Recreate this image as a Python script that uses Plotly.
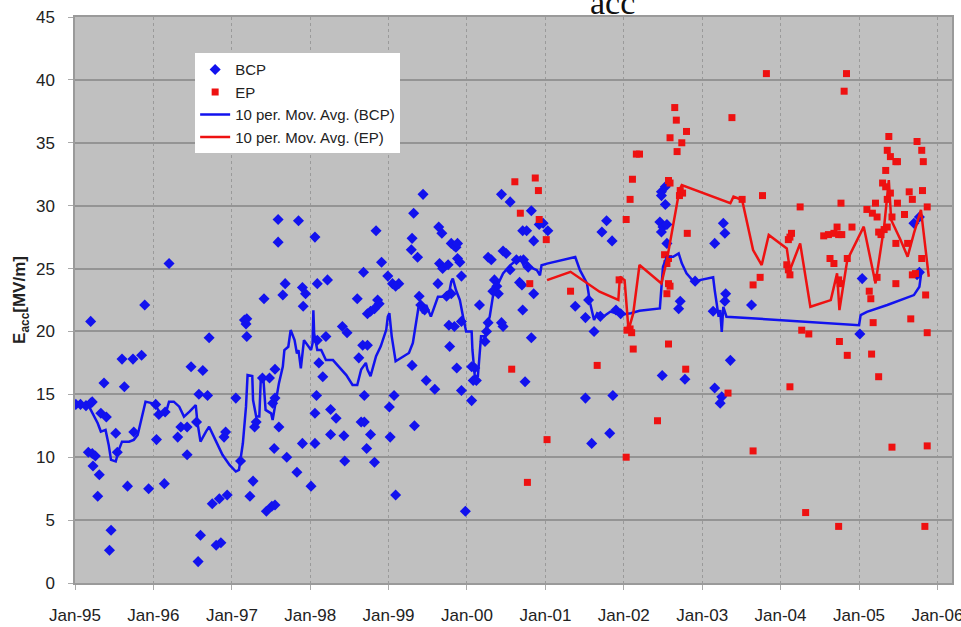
import pandas as pd
import plotly.graph_objects as go

# ---------------- data (decimal years, Eacc in MV/m) ----------------
bcp_year = [1995.01,1995.07,1995.14,1995.2,1995.22,1995.2,1995.17,1995.22,1995.26,1995.23,
            1995.31,1995.29,1995.46,1995.44,1995.33,1995.4,1995.37,1995.52,1995.54,1995.63,
            1995.6,1995.74,1995.85,1995.67,1995.75,1995.89,1995.94,1996.04,1996.07,1996.03,
            1996.15,1996.14,1996.2,1996.31,1996.35,1996.43,1996.43,1996.55,1996.48,1996.63,
            1996.58,1996.69,1996.71,1996.6,1996.57,1996.75,1996.84,1996.94,1996.8,1996.86,
            1996.9,1996.92,1997.05,1997.11,1997.16,1997.18,1997.19,1997.19,1997.23,1997.27,
            1997.29,1997.31,1997.39,1997.48,1997.55,1997.52,1997.55,1997.6,1997.54,1997.7,
            1997.83,1997.41,1997.65,1997.68,1997.9,1997.94,1997.91,1998.09,1998.22,1998.09,
            1998.2,1998.11,1998.16,1998.08,1998.06,1997.9,1998.06,1998.01,1997.59,1997.85,
            1997.59,1998.06,1997.44,1997.51,1997.55,1998.26,1998.33,1998.26,1998.41,
            1998.43,1998.44,1998.47,1998.6,1998.62,1998.65,1998.69,1998.68,1998.67,1998.73,1998.69,
            1998.77,1998.72,1998.82,1998.84,1998.91,1998.86,1998.88,1998.73,1998.77,1998.82,
            1998.99,1999.05,1999.13,1999.09,1999.01,1999.07,1999.02,1999.09,1999.32,1999.44,
            1999.3,1999.29,1999.37,1999.33,1999.3,1999.48,1999.59,1999.39,1999.41,1999.46,
            1999.63,1999.65,1999.69,1999.64,1999.68,1999.8,1999.84,1999.86,1999.88,1999.88,
            1999.91,1999.76,1999.93,1999.74,1999.8,1999.77,1999.84,1999.93,1999.78,1999.87,
            1999.93,2000.06,2000.06,2000.1,2000.08,2000.12,1999.98,2000.16,2000.25,2000.27,
            2000.23,2000.27,2000.31,2000.35,2000.38,2000.33,2000.4,2000.44,2000.46,2000.44,
            2000.55,2000.46,2000.5,2000.55,2000.63,2000.67,2000.7,2000.72,2000.78,2000.82,
            2000.71,2000.76,2000.85,2000.92,2000.97,2001.03,2000.71,2000.82,2000.85,2000.74,
            2001.38,2001.51,2001.55,2001.62,2001.7,2001.78,2001.72,2001.85,2001.51,2001.86,
            2001.59,2001.82,2001.9,2001.96,2002.48,2002.53,2002.48,2002.53,2002.46,2002.5,
            2002.55,2002.48,2002.55,2002.72,2002.7,2002.91,2002.49,2002.78,2003.27,2003.29,
            2003.16,2003.3,2003.29,2003.14,2003.36,2003.16,2003.25,2003.23,2003.63,2005.04,
            2005.01,2005.7,2005.77,2005.74,2005.77]
bcp_value = [14.2,14.2,14.1,14.3,14.4,20.8,10.4,10.3,10.1,9.3,
             8.6,6.9,4.2,2.6,13.5,13.2,15.9,11.9,10.4,15.6,
             17.8,17.8,18.1,7.7,12.0,22.1,7.5,11.4,13.4,14.2,
             13.6,7.9,25.4,11.6,12.4,12.4,10.2,12.8,17.2,16.9,
             15.0,14.9,19.5,3.8,1.7,6.3,6.7,7.0,3.0,3.2,
             11.6,12.0,14.7,9.7,20.9,20.6,21.0,19.6,6.9,8.1,
             12.4,12.8,16.3,16.3,17.0,14.3,14.7,12.4,10.7,10.0,
             8.8,22.6,22.9,23.8,23.5,23.0,22.0,23.8,24.1,19.3,
             19.6,17.5,16.4,14.9,13.5,11.1,11.1,7.7,28.9,28.8,
             27.1,27.5,5.7,6.1,6.2,13.8,13.1,11.8,20.4,
             11.7,9.7,19.9,22.6,17.9,12.8,12.8,24.7,18.9,18.9,14.9,
             11.8,10.7,9.6,28.0,25.5,22.5,22.2,21.4,21.6,21.8,
             24.4,23.8,23.8,23.6,14.0,14.9,11.6,7.0,29.4,30.9,
             27.4,26.5,25.9,12.5,17.3,16.1,15.4,22.8,22.1,21.7,
             23.8,25.4,25.0,28.3,27.8,27.0,26.8,26.7,27.0,25.8,
             25.5,25.3,24.4,22.8,23.0,20.5,20.4,20.8,18.8,17.1,
             15.3,14.5,17.2,17.1,16.1,16.1,5.7,22.1,20.0,20.7,
             19.2,25.9,25.7,24.1,23.6,23.2,23.0,20.7,20.4,30.9,
             30.3,26.4,26.2,24.9,25.7,23.9,23.7,25.7,25.1,29.6,
             28.0,28.0,27.2,28.5,28.6,28.0,21.7,19.5,23.0,16.0,
             22.0,21.1,22.5,20.0,21.2,28.8,27.9,27.2,14.7,14.9,
             11.1,11.9,21.7,21.4,31.1,31.5,30.8,30.1,28.7,28.3,
             28.5,27.9,27.0,22.4,21.8,24.0,16.5,16.2,28.6,27.8,
             27.0,23.0,22.4,21.6,17.7,15.5,14.8,14.3,22.1,24.2,
             19.8,28.6,29.1,24.5,24.7]

ep_year = [2000.61,2000.87,2000.91,2000.68,2000.92,2001.01,2000.8,2000.57,2001.02,2000.77,
           2001.32,2001.66,2001.94,2002.03,2002.08,2002.11,2002.16,2002.2,2002.04,2002.08,
           2002.1,2002.12,2002.03,2002.43,2002.52,2002.57,2002.55,2002.57,2002.59,2002.55,
           2002.57,2002.57,2002.59,2002.59,2002.65,2002.67,2002.68,2002.74,2002.8,2002.72,
           2002.75,2002.71,2002.81,2002.79,2003.33,2003.38,2003.51,2003.65,2003.74,2003.65,
           2003.77,2003.82,2004.1,2004.12,2004.14,2004.08,2004.1,2004.12,2004.12,2004.25,
           2004.27,2004.36,2004.32,2004.55,2004.61,2004.68,2004.72,2004.74,2004.78,2004.63,
           2004.68,2004.74,2004.76,2004.85,2004.91,2004.75,2004.85,2004.74,2004.77,2004.84,
           2004.81,2005.1,2005.17,2005.21,2005.23,2005.13,2005.15,2005.18,2005.16,2005.25,
           2005.42,2005.38,2005.36,2005.4,2005.34,2005.47,2005.49,2005.3,2005.34,2005.4,
           2005.36,2005.25,2005.32,2005.36,2005.28,2005.42,2005.49,2005.47,2005.47,2005.58,
           2005.64,2005.68,2005.62,2005.66,2005.74,2005.8,2005.82,2005.81,2005.87,2005.8,
           2005.68,2005.72,2005.85,2005.87,2005.87,2005.84,2005.23]
ep_value = [31.9,32.2,31.2,29.4,28.9,27.3,23.8,17.0,11.4,8.0,
            23.2,17.3,24.1,28.9,30.5,32.1,34.1,34.1,20.1,20.2,
            19.9,18.6,10.0,12.9,26.1,25.8,25.4,23.8,23.6,23.0,
            19.0,32.0,31.8,35.4,37.8,36.8,34.3,35.0,35.9,31.2,
            31.0,30.8,27.8,17.0,15.1,37.0,30.5,23.7,24.3,10.5,
            30.8,40.5,27.3,27.5,27.8,25.3,24.9,24.5,15.6,29.9,
            20.1,19.8,5.6,27.6,27.7,27.8,28.3,27.7,27.7,25.8,
            25.4,24.1,23.8,25.8,28.3,19.2,18.1,4.5,30.2,40.5,
            39.1,29.7,29.4,30.2,29.1,23.2,22.6,20.7,18.2,16.4,
            10.8,35.5,34.4,33.9,32.8,33.5,33.5,31.8,31.5,31.0,
            30.5,27.9,28.1,28.3,27.7,29.1,30.2,27.0,23.8,29.3,
            31.1,30.5,27.0,21.0,35.1,34.4,33.5,31.2,29.9,25.8,
            24.5,24.6,22.9,19.9,10.9,4.5,24.3]

# 10-period moving-average trend lines
bcp_ma_year = [1995.0,1995.18,1995.29,1995.33,1995.39,1995.43,1995.46,1995.52,1995.56,1995.6,
               1995.69,1995.75,1995.8,1995.88,1995.9,1995.99,1996.05,1996.09,1996.16,1996.2,
               1996.26,1996.33,1996.39,1996.46,1996.54,1996.56,1996.6,1996.67,1996.71,1996.8,
               1996.88,1996.97,1997.05,1997.09,1997.14,1997.18,1997.2,1997.26,1997.27,1997.31,
               1997.35,1997.37,1997.4,1997.43,1997.5,1997.52,1997.56,1997.6,1997.65,1997.67,
               1997.72,1997.75,1997.8,1997.83,1997.85,1997.88,1997.92,1997.97,1998.01,1998.03,
               1998.04,1998.05,1998.09,1998.14,1998.2,1998.29,1998.37,1998.46,1998.54,1998.6,
               1998.65,1998.71,1998.73,1998.77,1998.84,1998.9,1998.97,1998.99,1999.01,1999.04,
               1999.09,1999.22,1999.26,1999.31,1999.35,1999.39,1999.44,1999.48,1999.54,1999.59,
               1999.63,1999.69,1999.78,1999.8,1999.82,1999.86,1999.91,1999.95,1999.99,2000.06,
               2000.07,2000.1,2000.14,2000.16,2000.18,2000.22,2000.23,2000.25,2000.29,2000.33,
               2000.38,2000.46,2000.55,2000.63,2000.68,2000.72,2000.76,2000.8,2000.89,2000.93,
               2000.95,2001.02,2001.38,2001.44,2001.53,2001.57,2001.62,2001.66,2001.74,2001.83,
               2001.96,2002.09,
               2002.2,2002.46,2002.48,2002.5,2002.55,2002.63,2002.7,2002.74,2002.8,2002.91,
               2002.97,2003.14,2003.16,2003.19,2003.21,2003.23,2003.25,2003.27,2003.31,2005.0,
               2005.02,2005.1,2005.36,2005.7,2005.77,2005.79]
bcp_ma_value = [14.23,14.02,12.7,12.04,12.17,10.98,9.79,9.66,10.58,11.24,
                11.24,11.38,11.77,14.02,14.42,14.29,13.89,13.36,13.54,14.42,
                14.42,14.02,13.23,13.62,14.15,12.83,11.24,12.04,12.43,11.24,
                10.19,9.39,8.86,8.99,11.11,14.02,16.53,16.45,14.55,13.23,
                13.23,16.4,16.4,13.76,13.49,12.96,14.55,15.87,17.2,18.52,
                18.78,20.11,19.31,18.25,18.52,17.06,19.31,18.92,18.52,19.05,
                21.69,19.84,18.52,18.52,17.72,17.72,17.2,16.53,15.74,15.74,
                16.97,17.5,16.97,16.45,18.03,18.82,20.13,21.18,21.45,19.61,
                17.63,18.16,18.29,19.08,20.66,22.24,21.45,22.11,21.18,21.97,
                22.76,22.76,23.29,23.95,24.21,23.29,22.5,21.18,20.0,20.0,
                18.55,16.45,16.45,18.03,19.61,19.61,19.21,20.39,21.18,22.76,
                23.55,24.61,25.26,25.66,25.92,25.26,25.53,25.13,24.87,24.47,
                25.26,25.39,25.92,24.87,23.82,22.24,20.92,21.45,21.18,21.58,
                21.32,21.45,
                21.64,21.83,23.55,25.15,25.94,25.94,26.21,25.41,24.62,23.82,
                24.08,24.3,23.29,21.96,21.17,21.7,19.97,21.96,21.17,20.5,
                21.3,21.56,22.1,22.89,23.55,24.48]

ep_ma_year = [2001.02,2001.32,2001.69,2001.93,2001.95,2002.01,2002.06,2002.12,2002.2,2002.48,
              2002.55,2002.71,2002.74,2003.36,2003.4,2003.51,2003.65,2003.76,2003.85,2004.08,
              2004.12,2004.25,2004.38,2004.64,2004.72,2004.75,2004.85,2005.06,2005.21,2005.32,
              2005.38,2005.41,2005.53,2005.62,2005.7,2005.79,2005.89]
ep_ma_value = [24.08,24.74,23.16,22.5,24.35,24.08,20.11,21.43,25.28,23.82,
               25.68,31.25,31.64,30.19,30.72,30.45,26.47,25.28,27.67,26.6,
               24.88,27.0,21.96,22.49,24.62,21.7,25.68,28.33,23.82,28.33,
               32.04,28.86,27.27,25.94,27.8,29.66,24.35]


def to_dates(years):
    out = []
    for y in years:
        yr = int(y)
        start = pd.Timestamp(yr, 1, 1)
        end = pd.Timestamp(yr + 1, 1, 1)
        out.append(start + (end - start) * (y - yr))
    return out


BLUE = "#1212ee"
RED = "#ee1111"

fig = go.Figure()
fig.add_trace(go.Scatter(x=to_dates(bcp_year), y=bcp_value, mode="markers", name="BCP",
                         legendgroup="a",
                         marker=dict(symbol="diamond", size=8.5, color=BLUE)))
fig.add_trace(go.Scatter(x=to_dates(ep_year), y=ep_value, mode="markers", name="EP",
                         legendgroup="b",
                         marker=dict(symbol="square", size=7, color=RED)))
fig.add_trace(go.Scatter(x=to_dates(bcp_ma_year), y=bcp_ma_value, mode="lines",
                         name="10 per. Mov. Avg. (BCP)", legendgroup="c",
                         line=dict(color=BLUE, width=2.5)))
fig.add_trace(go.Scatter(x=to_dates(ep_ma_year), y=ep_ma_value, mode="lines",
                         name="10 per. Mov. Avg. (EP)", legendgroup="d",
                         line=dict(color=RED, width=2.5)))

FONT = "Liberation Sans, Arial, sans-serif"

fig.update_layout(
    width=961, height=627,
    margin=dict(l=75, r=9, t=17, b=44, autoexpand=False),
    paper_bgcolor="white",
    plot_bgcolor="#c0c0c0",
    font=dict(family=FONT, color="#222222"),
    showlegend=True,
    legend=dict(x=0.137, y=0.936, xanchor="left", yanchor="top",
                bgcolor="white", borderwidth=0,
                font=dict(family=FONT, size=15, color="#222222"),
                tracegroupgap=0, itemwidth=30),
    annotations=[dict(text="acc", xref="paper", yref="paper", x=0.613, y=1.026,
                      xanchor="center", yanchor="middle", showarrow=False,
                      font=dict(family="Liberation Serif, Times New Roman, serif", size=34,
                                color="#111111"))],
)

fig.update_xaxes(
    type="date",
    range=["1995-01-01", "2006-03-10"],
    tick0="1995-01-01", dtick="M12", tickformat="%b-%y",
    showgrid=True, gridcolor="#9a9a9a", gridwidth=1, griddash="dot",
    ticks="outside", ticklen=5, tickcolor="#aaaaaa",
    showline=True, linecolor="#9a9a9a", linewidth=1.5, mirror=True,
    tickfont=dict(family=FONT, size=17, color="#222222"),
    ticklabelstandoff=11, ticklabeloverflow="allow",
    automargin=False,
    zeroline=False,
)
fig.update_yaxes(
    range=[0, 45], tick0=0, dtick=5,
    showgrid=True, gridcolor="#949494", gridwidth=1.5,
    ticks="outside", ticklen=5, tickcolor="#aaaaaa",
    showline=True, linecolor="#9a9a9a", linewidth=1.5, mirror=True,
    tickfont=dict(family=FONT, size=17, color="#222222"),
    ticklabelstandoff=10,
    automargin=False,
    zeroline=False,
    title=dict(text="<b>E<sub>acc</sub>[MV/m]</b>", standoff=6,
               font=dict(family=FONT, size=17, color="#222222")),
)

fig.write_html("out.html", config={"displayModeBar": False},
               post_script="document.body.style.margin='0';")
